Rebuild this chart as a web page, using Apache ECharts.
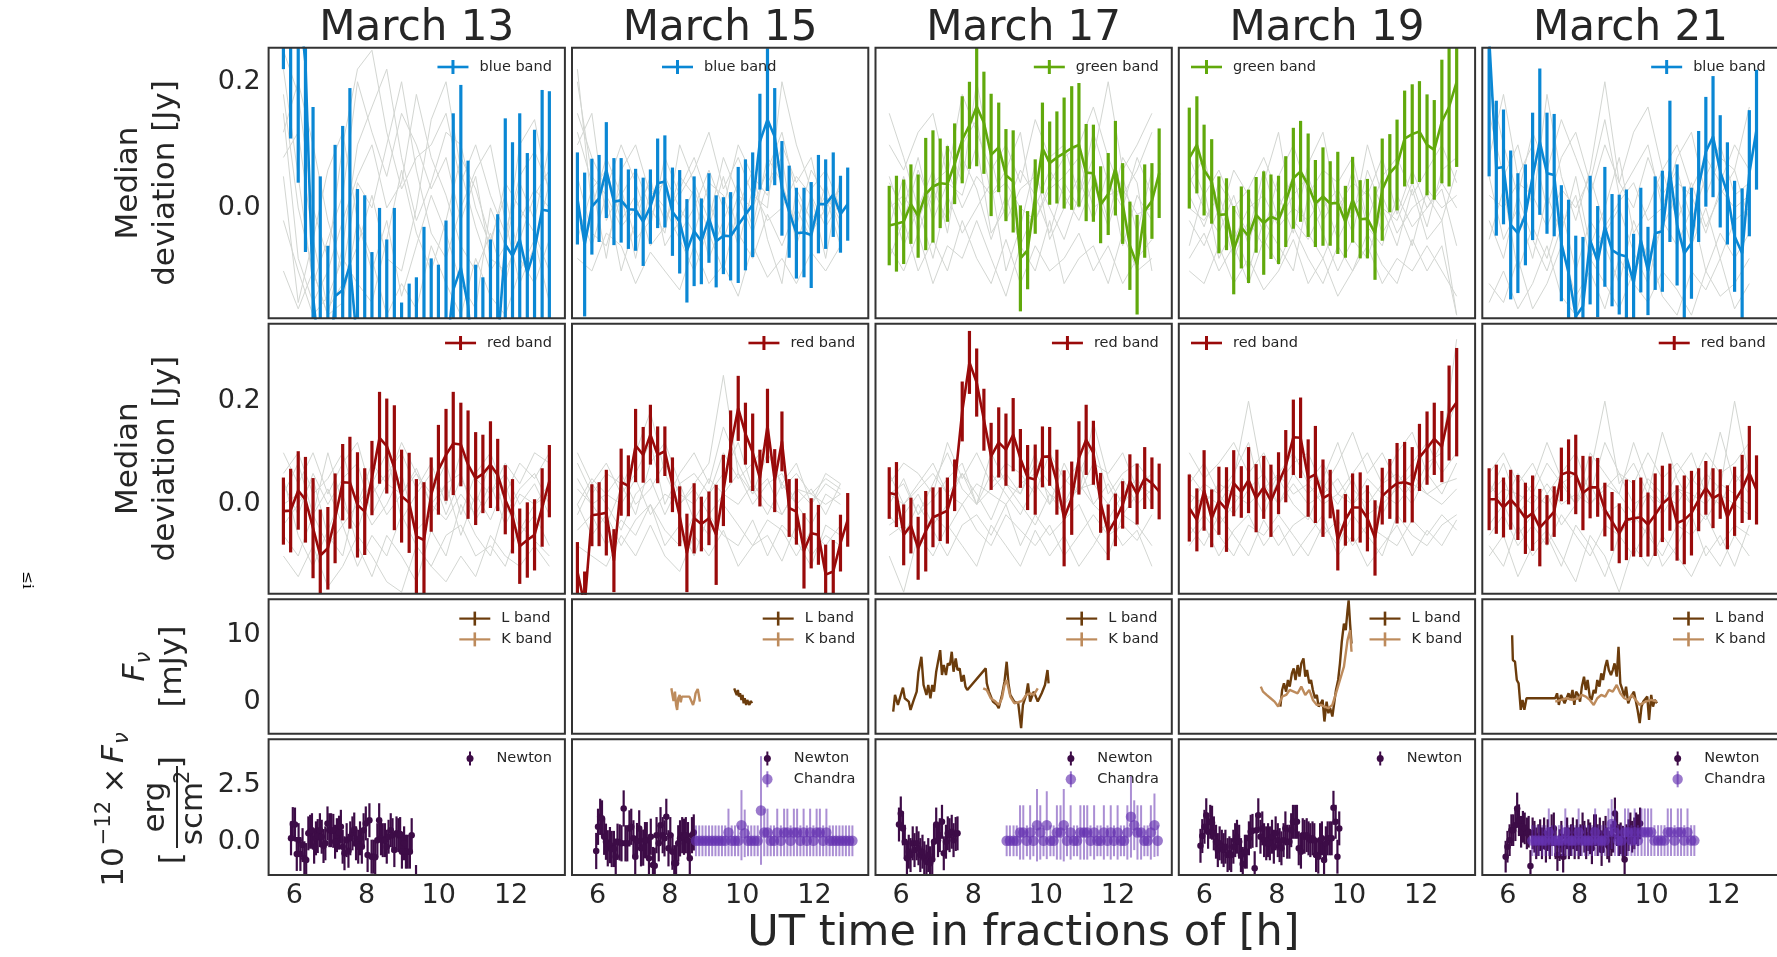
<!DOCTYPE html>
<html>
<head>
<meta charset="utf-8">
<title>Multi-band light curves</title>
<script src="https://cdn.jsdelivr.net/npm/echarts@6/dist/echarts.min.js"></script>
<style>
  html, body { margin: 0; padding: 0; background: #fff; }
  #chart { width: 1777px; height: 957px; }
</style>
</head>
<body>
<div id="chart"></div>
<script>
// ---------- labels / ticks ----------
const days = ['March 13', 'March 15', 'March 17', 'March 19', 'March 21'];
const xTicks = [6, 8, 10, 12];
const devTicks = [0.0, 0.2];
const irTicks = [0, 10];
const xrayTicks = [0.0, 2.5];

// ---------- optical bin times [h], shared by both optical rows ----------
const tOpt13 = [5.70,5.90,6.11,6.31,6.52,6.72,6.93,7.13,7.34,7.54,7.75,7.95,8.15,8.36,8.56,8.77,8.97,9.18,9.38,9.59,9.79,9.99,10.20,10.40,10.61,10.81,11.02,11.22,11.43,11.63,11.84,12.04,12.24,12.45,12.65,12.86,13.06];
const tOpt15 = [5.44,5.64,5.84,6.04,6.24,6.45,6.65,6.85,7.05,7.26,7.46,7.66,7.86,8.07,8.27,8.47,8.67,8.87,9.08,9.28,9.48,9.68,9.89,10.09,10.29,10.49,10.70,10.90,11.10,11.30,11.50,11.71,11.91,12.11,12.31,12.52,12.72,12.92];
const tOpt17 = [5.67,5.87,6.07,6.27,6.47,6.68,6.88,7.08,7.28,7.48,7.69,7.89,8.09,8.29,8.49,8.70,8.90,9.10,9.30,9.50,9.71,9.91,10.11,10.31,10.51,10.72,10.92,11.12,11.32,11.52,11.73,11.93,12.13,12.33,12.53,12.74,12.94,13.14];
const tOpt19 = [5.58,5.79,5.99,6.20,6.40,6.61,6.81,7.02,7.22,7.43,7.64,7.84,8.05,8.25,8.46,8.66,8.87,9.07,9.28,9.48,9.69,9.90,10.10,10.31,10.51,10.72,10.92,11.13,11.33,11.54,11.75,11.95,12.16,12.36,12.57,12.77,12.98];
const tOpt21 = [5.48,5.68,5.88,6.08,6.28,6.49,6.69,6.89,7.09,7.29,7.49,7.69,7.89,8.09,8.29,8.50,8.70,8.90,9.10,9.30,9.50,9.70,9.90,10.10,10.30,10.51,10.71,10.91,11.11,11.31,11.51,11.71,11.91,12.11,12.31,12.52,12.72,12.92];

// ---------- top row: blue / green band median deviation [Jy] ----------
const blue13 = [0.52,0.41,0.34,0.23,-0.14,-0.25,-0.30,-0.14,-0.13,-0.09,-0.22,-0.23,-0.31,-0.25,-0.29,-0.24,-0.38,-0.35,-0.33,-0.26,-0.30,-0.31,-0.24,-0.13,-0.095,-0.155,-0.30,-0.32,-0.27,-0.22,-0.058,-0.076,-0.05,-0.103,-0.066,-0.003,-0.005];
const blue13Err = [0.30,0.30,0.30,0.30,0.30,0.30,0.24,0.24,0.26,0.28,0.25,0.25,0.24,0.25,0.24,0.24,0.23,0.23,0.22,0.23,0.22,0.22,0.22,0.28,0.29,0.23,0.21,0.21,0.22,0.21,0.20,0.18,0.20,0.19,0.19,0.19,0.19];
const blue15 = [0.015,-0.058,0.002,0.015,0.060,0.010,0.012,-0.002,-0.003,-0.022,0.002,0.039,0.042,-0.006,-0.022,-0.068,-0.037,-0.053,-0.016,-0.053,-0.044,-0.045,-0.027,-0.011,0.005,0.105,0.140,0.113,0.031,-0.006,-0.040,-0.039,-0.043,0.006,0.006,0.021,-0.010,0.006];
const blue15Err = [0.073,0.114,0.076,0.069,0.076,0.069,0.067,0.063,0.065,0.070,0.059,0.071,0.073,0.070,0.082,0.082,0.087,0.068,0.071,0.073,0.061,0.070,0.092,0.088,0.083,0.076,0.113,0.077,0.075,0.073,0.072,0.071,0.084,0.078,0.071,0.067,0.061,0.058];
const green17 = [-0.028,-0.025,-0.022,0.006,-0.013,0.022,0.034,0.039,0.038,0.070,0.108,0.131,0.161,0.135,0.084,0.096,0.052,0.042,-0.080,-0.067,0.018,0.095,0.071,0.080,0.087,0.095,0.100,0.056,0.055,0.005,0.022,0.063,0.007,-0.060,-0.090,-0.005,0.011,0.055];
const green17Err = [0.063,0.076,0.067,0.063,0.066,0.089,0.089,0.071,0.060,0.064,0.069,0.069,0.095,0.081,0.097,0.071,0.073,0.081,0.084,0.062,0.059,0.072,0.066,0.073,0.088,0.098,0.098,0.077,0.077,0.061,0.065,0.075,0.064,0.070,0.079,0.074,0.060,0.071];
const green19 = [0.079,0.100,0.060,0.042,-0.011,-0.010,-0.067,-0.031,-0.045,-0.011,-0.024,-0.014,-0.019,0.010,0.047,0.058,0.036,0.007,0.018,0.007,0.008,-0.022,0.013,-0.018,-0.017,-0.040,0.029,0.055,0.068,0.110,0.117,0.121,0.100,0.092,0.137,0.160,0.200];
const green19Err = [0.080,0.077,0.072,0.067,0.061,0.057,0.070,0.065,0.074,0.060,0.082,0.067,0.070,0.072,0.080,0.080,0.082,0.069,0.078,0.067,0.081,0.057,0.068,0.062,0.063,0.074,0.081,0.062,0.072,0.076,0.079,0.080,0.080,0.079,0.098,0.126,0.135];
const blue21 = [0.27,0.063,0.065,-0.027,-0.040,-0.011,0.050,0.105,0.055,0.052,-0.056,-0.103,-0.172,-0.156,-0.051,-0.085,-0.030,-0.067,-0.074,-0.077,-0.119,-0.051,-0.100,-0.040,-0.037,0.058,-0.027,-0.072,-0.056,0.034,0.089,0.113,0.058,0.023,-0.045,-0.072,0.055,0.124];
const blue21Err = [0.22,0.107,0.091,0.118,0.095,0.080,0.101,0.116,0.096,0.097,0.092,0.116,0.128,0.110,0.102,0.088,0.095,0.089,0.095,0.106,0.078,0.083,0.070,0.090,0.096,0.112,0.096,0.106,0.088,0.088,0.087,0.096,0.089,0.081,0.088,0.103,0.100,0.095];

// ---------- second row: red band ----------
const red13 = [-0.013,-0.012,0.027,0.009,-0.046,-0.099,-0.085,-0.027,0.043,0.042,-0.001,-0.014,0.051,0.129,0.113,0.071,0.016,0.003,-0.062,-0.069,0.019,0.067,0.096,0.118,0.116,0.077,0.050,0.059,0.077,0.057,0.009,-0.023,-0.081,-0.069,-0.059,-0.006,0.045];
const red13Err = [0.065,0.081,0.076,0.083,0.097,0.089,0.080,0.087,0.074,0.089,0.102,0.084,0.072,0.089,0.092,0.121,0.090,0.097,0.111,0.112,0.072,0.087,0.089,0.100,0.081,0.105,0.090,0.076,0.084,0.070,0.067,0.072,0.073,0.073,0.069,0.076,0.070];
const red15 = [-0.130,-0.195,-0.021,-0.019,-0.016,-0.109,0.043,0.036,0.114,0.096,0.135,0.096,0.103,0.038,-0.023,-0.094,-0.027,-0.038,-0.027,-0.059,0.027,0.112,0.186,0.137,0.101,0.051,0.152,0.046,0.122,-0.007,-0.014,-0.090,-0.056,-0.059,-0.136,-0.130,-0.075,-0.030];
const red15Err = [0.057,0.065,0.060,0.062,0.083,0.061,0.065,0.059,0.071,0.054,0.058,0.055,0.048,0.053,0.058,0.076,0.068,0.053,0.052,0.097,0.069,0.070,0.063,0.060,0.075,0.055,0.072,0.061,0.058,0.056,0.064,0.073,0.068,0.058,0.058,0.061,0.055,0.052];
const red17 = [0.022,0.019,-0.059,-0.041,-0.085,-0.052,-0.025,-0.019,-0.012,0.037,0.180,0.275,0.236,0.164,0.093,0.120,0.106,0.135,0.089,0.052,0.048,0.092,0.093,0.043,-0.027,0.012,0.090,0.125,0.100,0.003,-0.054,-0.030,-0.001,0.045,0.020,0.051,0.041,0.025];
const red17Err = [0.050,0.063,0.059,0.054,0.061,0.078,0.058,0.052,0.064,0.050,0.058,0.061,0.066,0.060,0.065,0.068,0.070,0.071,0.057,0.063,0.068,0.059,0.057,0.063,0.093,0.071,0.071,0.068,0.062,0.058,0.054,0.051,0.046,0.052,0.059,0.060,0.050,0.054];
const red19 = [-0.007,-0.030,0.027,-0.027,0.007,-0.010,0.041,0.024,0.047,0.012,0.033,0.007,0.041,0.074,0.130,0.129,0.051,0.058,0.012,0.020,-0.069,-0.030,-0.006,-0.006,-0.027,-0.065,0.016,0.030,0.041,0.043,0.038,0.091,0.109,0.127,0.112,0.177,0.198];
const red19Err = [0.065,0.061,0.078,0.056,0.066,0.082,0.064,0.050,0.064,0.066,0.061,0.070,0.060,0.070,0.073,0.078,0.075,0.094,0.075,0.047,0.059,0.050,0.066,0.068,0.064,0.073,0.055,0.058,0.078,0.078,0.073,0.065,0.071,0.070,0.069,0.092,0.105];
const red21 = [0.010,0.010,-0.006,0.009,-0.006,-0.027,-0.017,-0.045,-0.030,-0.014,0.058,0.063,0.058,0.022,0.033,0.033,-0.010,-0.033,-0.056,-0.030,-0.027,-0.025,-0.039,-0.020,0.001,0.014,-0.036,-0.030,-0.017,0.009,0.032,0.012,0.020,-0.025,0.006,0.030,0.061,0.028];
const red21Err = [0.060,0.067,0.058,0.058,0.063,0.069,0.073,0.075,0.048,0.049,0.052,0.063,0.077,0.072,0.060,0.057,0.052,0.057,0.058,0.078,0.074,0.077,0.062,0.080,0.074,0.065,0.073,0.086,0.082,0.061,0.052,0.058,0.048,0.062,0.067,0.066,0.091,0.067];

// ---------- grey comparison curves (every second optical bin) ----------
const grey13Top = [
  [0.22,0.05,-0.12,-0.05,0.02,0.2,0.12,0.05,0.15,0.1,0.03,0.08,-0.02,0.05,-0.08,-0.1,-0.05,0.02,0.06],
  [0.15,-0.08,-0.15,-0.1,-0.02,0.05,0.1,0.0,0.04,0.18,0.08,0.02,-0.06,-0.1,-0.04,-0.12,-0.02,0.03,0.0],
  [0.08,0.12,-0.05,-0.16,-0.12,-0.06,0.02,-0.08,-0.1,0.0,0.14,0.2,0.06,-0.03,-0.1,-0.06,0.04,-0.02,0.1],
  [-0.02,-0.1,-0.17,-0.14,-0.08,-0.12,-0.15,-0.05,0.06,-0.04,-0.1,-0.02,0.08,0.03,-0.05,0.02,-0.08,-0.12,-0.05],
  [0.25,0.18,0.0,-0.08,0.1,0.22,0.25,0.12,0.03,0.08,0.1,0.15,0.04,0.1,0.02,-0.04,0.05,0.09,0.03],
  [-0.1,-0.16,-0.1,-0.17,-0.15,-0.02,-0.08,-0.17,-0.12,-0.16,-0.06,-0.12,-0.17,-0.08,-0.14,-0.17,-0.1,-0.05,-0.15],
  [0.12,0.2,0.1,-0.02,-0.1,0.04,0.0,0.1,0.2,0.06,-0.04,-0.08,0.0,0.06,0.1,-0.02,-0.12,-0.06,0.04],
  [0.18,0.0,-0.1,-0.17,-0.06,0.1,0.16,0.22,0.08,-0.02,0.04,0.12,0.1,0.0,-0.06,0.04,0.0,-0.04,-0.1],
  [0.05,-0.15,-0.05,0.06,0.12,-0.02,-0.1,-0.02,-0.14,-0.06,0.02,-0.04,-0.12,-0.16,0.0,-0.06,0.1,0.14,0.02]
];
const grey15Top = [
  [0.2,0.05,0.02,-0.03,0.0,0.04,-0.02,0.03,0.08,0.01,-0.05,0.02,0.0,0.06,0.12,0.02,-0.04,0.0,0.03],
  [0.1,0.15,-0.02,0.03,-0.05,-0.02,0.05,0.0,-0.04,0.04,0.02,-0.06,0.03,-0.02,0.0,0.05,0.02,-0.03,0.01],
  [-0.05,0.03,0.06,-0.02,0.02,-0.06,-0.03,0.05,0.02,-0.08,-0.02,0.04,-0.03,0.08,0.04,-0.03,0.06,0.02,-0.02],
  [0.05,-0.04,-0.06,0.02,-0.08,0.03,0.0,-0.05,-0.1,-0.03,0.05,-0.04,-0.08,-0.01,-0.06,0.0,-0.05,0.04,-0.04],
  [0.15,0.08,0.03,0.1,0.04,-0.03,0.08,0.02,0.06,0.12,0.03,0.08,0.02,0.0,0.2,0.1,0.03,0.06,0.0],
  [-0.08,-0.1,-0.04,-0.06,-0.12,-0.07,-0.1,-0.13,-0.06,-0.12,-0.09,-0.14,-0.06,-0.11,-0.08,-0.12,-0.07,-0.1,-0.06],
  [0.22,0.0,0.08,0.02,0.06,0.0,-0.04,0.1,0.04,-0.02,0.08,0.02,-0.04,0.04,0.08,-0.06,0.02,-0.08,0.05],
  [0.0,-0.06,0.02,-0.1,-0.02,0.05,-0.06,-0.02,0.03,-0.04,-0.1,0.0,0.06,-0.05,-0.12,0.03,-0.02,0.02,-0.06],
  [0.12,0.04,-0.08,0.06,0.1,0.02,0.04,-0.04,0.0,0.06,0.0,0.1,0.05,0.02,0.1,0.04,0.08,-0.02,0.04]
];
const grey17Top = [
  [0.05,-0.02,0.06,0.0,0.1,0.04,0.2,0.08,-0.02,0.03,0.05,0.0,-0.05,0.02,0.12,0.04,0.0,0.08,0.02],
  [-0.03,0.05,-0.04,0.03,-0.02,0.08,0.03,-0.05,0.02,-0.06,0.0,0.06,0.02,-0.02,0.04,-0.03,0.05,-0.04,0.06],
  [0.02,-0.06,0.0,-0.08,0.02,-0.04,0.0,0.04,-0.1,-0.03,0.07,-0.05,0.0,0.05,-0.02,0.06,-0.06,0.02,-0.02],
  [-0.08,-0.02,-0.1,-0.05,-0.1,-0.02,-0.08,-0.12,-0.05,-0.12,-0.06,-0.1,-0.08,-0.04,-0.1,-0.06,-0.12,-0.08,-0.05],
  [0.1,0.06,0.12,0.15,0.05,0.18,0.12,0.06,0.1,0.04,0.14,0.08,0.1,0.02,0.08,0.2,0.06,0.1,0.15],
  [0.0,0.02,-0.02,0.04,0.06,0.0,0.05,0.02,0.04,0.0,-0.02,0.03,0.05,0.08,0.0,0.02,0.03,-0.01,0.0],
  [0.15,0.08,0.0,0.06,-0.04,0.1,0.14,0.02,0.06,0.12,-0.02,0.04,0.08,0.1,0.16,0.08,0.02,0.06,0.12],
  [-0.06,-0.1,-0.04,-0.12,-0.06,-0.08,-0.02,-0.08,-0.14,-0.06,-0.1,-0.02,-0.12,-0.08,-0.06,-0.12,-0.04,-0.1,-0.08],
  [0.04,0.0,0.08,-0.02,0.04,0.02,0.1,-0.04,0.0,0.06,0.02,-0.04,0.04,0.0,0.06,-0.02,0.08,0.04,-0.1]
];
const grey19Top = [
  [0.05,0.0,-0.04,0.02,-0.06,0.04,0.12,-0.02,-0.05,0.0,0.03,-0.02,0.1,0.02,-0.04,0.0,0.02,-0.02,-0.17],
  [-0.02,-0.06,0.0,-0.08,-0.02,-0.06,0.0,0.05,-0.04,-0.08,-0.02,0.06,-0.03,-0.06,0.02,-0.03,0.0,0.04,0.0],
  [-0.06,0.03,-0.08,-0.03,-0.1,-0.02,-0.06,-0.1,0.02,-0.04,-0.1,-0.05,-0.08,0.0,-0.06,0.03,-0.05,-0.02,0.06],
  [0.08,0.02,0.06,0.0,0.03,0.08,0.02,-0.04,0.07,0.12,0.0,0.04,0.02,0.08,-0.01,0.06,0.0,0.03,-0.06],
  [-0.1,-0.12,-0.06,-0.12,-0.08,-0.13,-0.1,-0.05,-0.12,-0.08,-0.14,-0.1,-0.06,-0.12,-0.08,-0.1,-0.06,-0.1,-0.14],
  [0.0,-0.02,0.02,-0.05,0.0,0.02,-0.03,0.0,-0.02,0.02,-0.05,0.0,0.03,-0.04,0.0,-0.06,0.03,0.0,0.02],
  [0.04,0.08,-0.02,0.06,0.02,-0.04,0.05,0.1,0.02,0.06,0.04,0.08,-0.02,0.05,0.08,0.02,0.06,0.1,0.04],
  [-0.08,-0.04,-0.1,-0.06,-0.12,-0.05,-0.09,-0.03,-0.08,-0.12,-0.06,-0.1,-0.04,-0.09,-0.12,-0.05,-0.1,-0.06,-0.17],
  [0.02,-0.03,0.04,0.0,-0.04,0.06,-0.02,0.02,0.05,-0.02,0.02,-0.04,0.06,0.0,-0.02,0.04,-0.03,0.06,0.08]
];
const grey21Top = [
  [0.15,0.05,0.1,0.0,0.18,0.05,-0.02,0.06,0.2,0.04,0.0,0.08,0.02,0.06,-0.02,0.05,0.1,0.02,0.04],
  [0.05,-0.05,0.0,-0.08,0.02,-0.04,0.05,-0.06,0.0,0.08,-0.04,0.0,0.06,-0.02,0.04,-0.03,0.02,0.06,-0.02],
  [-0.05,0.03,-0.1,-0.03,-0.08,0.0,-0.1,-0.02,-0.06,-0.12,-0.02,-0.08,-0.03,0.02,-0.06,0.0,-0.08,-0.02,0.0],
  [0.2,0.1,0.02,0.12,0.06,0.14,0.08,0.02,0.1,0.04,0.12,0.16,0.06,0.1,0.03,0.08,0.04,0.1,0.06],
  [-0.12,-0.15,-0.08,-0.16,-0.12,-0.06,-0.14,-0.1,-0.16,-0.08,-0.12,-0.15,-0.1,-0.13,-0.17,-0.1,-0.14,-0.12,-0.08],
  [0.02,0.0,0.04,0.02,-0.03,0.03,0.0,0.05,-0.03,0.01,0.04,-0.02,0.0,0.04,0.02,-0.04,0.03,0.0,0.02],
  [0.08,0.18,0.05,0.1,0.0,0.08,0.12,0.04,0.14,0.02,0.06,0.1,0.0,0.08,0.12,0.02,0.08,0.06,0.16],
  [-0.02,-0.08,0.02,-0.05,-0.1,-0.03,0.02,-0.08,-0.04,0.0,-0.07,-0.12,-0.02,-0.06,0.0,-0.1,-0.04,-0.08,-0.04],
  [-0.15,-0.1,-0.16,-0.12,-0.06,-0.14,-0.17,-0.08,-0.12,-0.16,-0.1,-0.06,-0.14,-0.17,-0.1,-0.13,-0.08,-0.16,-0.12]
];
const grey13Red = [
  [0.02,0.08,-0.02,0.1,0.0,-0.05,0.04,0.1,-0.03,0.02,0.06,-0.02,0.05,0.0,0.08,-0.02,0.03,0.06,0.0],
  [-0.04,0.0,0.05,-0.06,-0.1,0.02,-0.04,0.0,0.06,-0.05,-0.02,0.04,-0.06,0.02,-0.03,0.04,-0.05,0.0,0.04],
  [0.05,-0.06,-0.12,-0.05,0.02,-0.08,-0.14,-0.06,-0.1,-0.15,-0.05,-0.1,0.0,-0.06,-0.1,0.0,-0.06,-0.02,-0.08],
  [0.1,0.04,0.1,0.02,0.08,0.12,0.02,0.06,0.1,0.03,0.08,0.0,0.1,0.05,0.02,0.08,0.04,0.1,0.08],
  [-0.1,-0.14,-0.08,-0.16,-0.12,-0.06,-0.1,-0.15,-0.17,-0.08,-0.12,-0.15,-0.1,-0.14,-0.06,-0.1,-0.12,-0.08,-0.12],
  [0.0,0.02,-0.02,0.03,-0.04,0.0,0.04,-0.02,0.02,0.06,0.0,-0.03,0.02,-0.02,0.04,-0.04,0.02,0.0,0.02],
  [0.04,-0.02,0.06,0.0,0.05,0.08,-0.02,0.04,0.02,0.07,0.0,0.04,0.06,-0.03,0.02,0.06,0.0,0.04,-0.02],
  [-0.06,-0.1,-0.02,-0.08,-0.04,-0.12,-0.06,-0.1,-0.02,-0.08,-0.12,-0.06,-0.04,-0.1,-0.08,-0.12,-0.04,-0.07,-0.1],
  [0.06,0.1,0.02,0.05,0.1,0.0,0.08,0.04,0.12,0.06,0.02,0.08,-0.02,0.06,0.1,0.02,0.08,0.05,0.1]
];
const grey15Red = [
  [0.05,0.0,-0.04,0.03,0.1,0.18,0.06,0.0,0.04,0.08,0.25,0.06,0.02,0.05,-0.02,0.03,0.0,0.04,0.02],
  [-0.02,0.04,0.0,-0.05,0.02,0.05,-0.02,0.04,-0.03,0.02,0.06,0.12,0.03,-0.02,0.04,0.0,-0.04,0.02,0.0],
  [0.0,-0.06,-0.02,-0.08,-0.03,0.0,-0.05,-0.08,-0.02,-0.06,0.0,-0.04,-0.08,-0.03,-0.05,-0.1,-0.05,-0.08,-0.04],
  [0.08,0.02,0.06,0.04,-0.02,0.08,0.12,0.04,0.06,0.02,0.1,0.05,0.08,0.12,0.03,0.06,0.02,0.05,0.03],
  [-0.08,-0.1,-0.12,-0.06,-0.1,-0.04,-0.1,-0.13,-0.06,-0.1,-0.05,-0.12,-0.08,-0.06,-0.11,-0.04,-0.1,-0.06,-0.08],
  [0.03,0.0,0.02,0.0,0.05,-0.02,0.02,0.0,0.03,-0.02,0.02,0.0,0.04,0.0,-0.02,0.03,0.02,0.0,0.02],
  [0.1,0.04,0.08,0.02,0.06,0.12,0.0,0.06,0.1,0.04,0.15,0.08,0.02,0.1,0.04,0.08,0.0,0.06,0.04],
  [-0.05,-0.02,-0.08,-0.03,-0.06,0.0,-0.08,-0.04,-0.1,-0.02,-0.06,-0.08,-0.03,-0.1,-0.04,-0.07,-0.12,-0.04,-0.06],
  [0.0,0.05,0.02,0.06,0.0,0.03,0.08,0.02,0.0,0.05,0.02,0.06,0.0,0.04,0.06,0.0,0.03,-0.02,0.04]
];
const grey17Red = [
  [0.0,0.05,-0.02,0.04,0.1,0.03,0.0,0.06,0.02,-0.02,0.04,0.0,0.08,0.02,0.16,0.05,0.0,0.04,0.02],
  [-0.04,-0.02,0.02,-0.04,0.0,0.06,0.02,-0.03,0.04,0.0,-0.04,0.02,-0.02,0.04,0.0,-0.03,0.02,0.05,0.0],
  [-0.1,-0.17,-0.06,-0.1,-0.04,-0.08,-0.12,-0.04,-0.08,-0.12,-0.05,-0.1,-0.06,-0.12,-0.08,-0.03,-0.08,-0.05,-0.12],
  [0.04,0.08,0.06,0.02,0.12,0.05,0.1,0.04,0.08,0.06,0.02,0.1,0.05,0.02,0.08,0.06,0.1,0.03,0.06],
  [-0.06,-0.04,-0.08,-0.02,-0.05,0.0,-0.05,-0.08,-0.02,-0.05,-0.08,-0.04,-0.1,-0.06,-0.02,-0.06,-0.04,-0.07,-0.02],
  [0.02,0.0,0.03,0.06,0.02,0.0,0.04,0.02,0.0,0.04,0.06,0.02,0.0,0.03,0.04,0.0,0.05,0.0,0.03],
  [0.06,0.0,0.04,0.08,0.02,0.06,0.0,0.1,0.04,0.02,0.08,0.04,0.0,0.06,0.12,0.02,0.06,0.08,0.04],
  [-0.02,-0.06,0.0,-0.05,-0.1,-0.04,-0.02,-0.06,0.0,-0.08,-0.02,-0.06,-0.03,0.0,-0.06,-0.1,-0.02,-0.04,-0.08],
  [0.02,0.04,-0.02,0.01,0.05,0.08,0.0,0.03,0.06,0.02,0.1,0.0,0.04,0.08,0.0,0.04,-0.02,0.02,0.05]
];
const grey19Red = [
  [0.06,0.02,0.0,0.05,0.2,0.04,0.0,0.06,0.02,0.05,0.12,0.03,0.0,0.04,0.06,0.02,0.08,0.1,0.32],
  [-0.02,0.02,-0.04,0.0,0.04,-0.02,0.05,0.0,-0.03,0.04,0.0,0.05,-0.02,0.0,0.03,0.06,0.02,0.04,0.05],
  [-0.08,-0.04,-0.1,-0.05,-0.02,-0.08,-0.04,-0.1,-0.06,-0.02,-0.1,-0.06,-0.12,-0.08,-0.04,-0.1,-0.05,-0.08,-0.03],
  [0.1,0.05,0.08,0.12,0.06,0.1,0.04,0.08,0.1,0.03,0.08,0.14,0.06,0.1,0.04,0.08,0.12,0.06,0.1],
  [-0.04,-0.08,-0.02,-0.06,-0.1,-0.03,-0.08,-0.04,-0.02,-0.06,-0.03,-0.08,-0.04,-0.06,-0.08,-0.03,-0.06,-0.02,-0.05],
  [0.02,0.0,0.04,0.02,0.0,0.03,0.06,0.02,0.04,0.0,0.02,0.0,0.05,0.02,0.0,0.04,0.02,0.0,0.03],
  [0.04,0.08,0.02,0.06,0.12,0.0,0.06,0.1,0.04,0.08,0.02,0.06,0.1,0.04,0.1,0.14,0.06,0.12,0.2],
  [-0.06,-0.02,-0.06,-0.1,-0.04,-0.06,-0.02,-0.06,-0.1,-0.04,-0.08,-0.02,-0.06,-0.1,-0.02,-0.06,-0.08,-0.04,-0.02],
  [0.0,0.04,0.02,-0.02,0.03,0.06,0.0,0.04,0.0,0.02,0.05,0.0,0.03,-0.02,0.04,0.0,0.06,0.02,0.08]
];
const grey21Red = [
  [0.02,0.08,0.0,0.04,0.12,0.05,0.0,0.06,0.2,0.04,0.08,0.02,0.14,0.05,0.0,0.06,0.03,0.2,0.05],
  [-0.04,0.0,-0.06,-0.02,0.02,-0.04,0.0,0.04,-0.02,0.0,-0.04,0.02,-0.02,0.03,0.0,-0.03,0.02,0.0,-0.02],
  [-0.1,-0.06,-0.14,-0.08,-0.05,-0.1,-0.15,-0.06,-0.1,-0.17,-0.08,-0.12,-0.06,-0.1,-0.14,-0.08,-0.12,-0.06,-0.1],
  [0.06,0.1,0.04,0.08,0.02,0.06,0.1,0.02,0.12,0.06,0.04,0.1,0.05,0.08,0.04,0.1,0.06,0.08,0.12],
  [-0.06,-0.02,-0.08,-0.04,-0.08,-0.02,-0.06,-0.1,-0.04,-0.06,-0.02,-0.06,-0.1,-0.04,-0.06,-0.02,-0.08,-0.04,-0.06],
  [0.0,0.03,0.02,0.0,0.04,0.0,0.02,0.0,0.03,0.06,0.0,0.02,0.0,0.03,0.02,0.0,0.04,0.02,0.0],
  [0.04,0.0,0.06,0.02,0.08,0.04,0.0,0.1,0.06,0.02,0.12,0.04,0.0,0.06,0.1,0.02,0.14,0.04,0.08],
  [-0.08,-0.12,-0.04,-0.1,-0.06,-0.12,-0.04,-0.08,-0.14,-0.06,-0.1,-0.04,-0.12,-0.08,-0.02,-0.1,-0.06,-0.12,-0.04],
  [0.02,0.05,-0.02,0.02,0.0,0.04,0.06,0.0,0.04,0.02,-0.02,0.05,0.02,0.0,0.05,0.02,0.0,0.06,0.02]
];

// ---------- third row: L and K band flux [mJy] ----------
const tK15 = [8.04,8.07,8.10,8.14,8.17,8.20,8.23,8.27,8.30,8.33,8.37,8.43,8.48,8.54,8.59,8.64,8.68,8.71,8.74,8.77,8.80,8.83];
const K15 = [2.0,1.0,0.1,1.5,-0.5,-1.25,0.5,1.0,-0.1,0.75,0.6,0.75,0.7,0.75,0.6,-0.5,0.25,1.25,1.5,1.9,1.0,0.0];
const tL15 = [9.78,9.81,9.85,9.88,9.91,9.94,9.98,10.01,10.04,10.07,10.11,10.14,10.17,10.20,10.24,10.27];
const L15 = [2.0,1.5,1.0,1.75,0.75,1.25,0.25,1.0,-0.25,0.5,-0.5,0.25,0.0,-0.5,0.1,-0.25];
const tL17 = [5.78,5.83,5.91,6.05,6.10,6.21,6.26,6.34,6.43,6.48,6.56,6.62,6.70,6.75,6.81,6.86,6.91,6.97,7.02,7.08,7.13,7.18,7.24,7.29,7.35,7.40,7.45,7.51,7.56,7.62,7.67,7.73,7.78,7.83,8.34,8.37,8.43,8.54,8.65,8.70,8.79,8.86,8.92,8.97,9.02,9.13,9.24,9.32,9.37,9.46,9.51,9.57,9.67,9.78,9.89,9.98,10.05,10.08];
const L17 = [-1.5,1.0,-0.5,2.1,0.5,0.0,-1.25,0.1,1.5,4.5,6.75,2.5,1.0,2.5,0.5,2.5,1.5,4.5,4.75,7.75,4.0,5.5,4.0,5.75,5.5,7.5,4.5,6.5,4.75,5.0,3.0,4.0,2.25,1.75,5.0,2.75,1.5,0.0,-0.5,-1.0,1.0,3.0,6.0,2.75,1.0,0.0,-0.25,-4.0,-0.5,1.0,2.75,0.0,1.5,0.0,1.25,2.5,4.75,2.75];
const tK17 = [8.27,8.37,8.48,8.59,8.70,8.79,8.86,8.92,9.02,9.13,9.24,9.35,9.46,9.57,9.67,9.78];
const K17 = [2.0,1.75,0.5,0.1,-0.5,0.5,2.5,3.25,0.75,-0.25,-0.1,0.1,1.0,1.25,1.0,2.0];
const tL19 = [8.10,8.15,8.20,8.26,8.31,8.36,8.42,8.47,8.52,8.58,8.63,8.68,8.74,8.79,8.84,8.90,8.95,9.00,9.06,9.11,9.16,9.22,9.27,9.32,9.38,9.43,9.48,9.54,9.59,9.64,9.70,9.75,9.80,9.86,9.91,9.96,9.99,10.03,10.07];
const L19 = [-0.75,1.75,2.75,1.5,3.25,2.25,4.25,5.0,3.25,5.5,3.75,5.75,6.5,3.75,4.75,2.75,3.25,1.75,0.5,1.0,-0.75,-0.25,0.25,-3.0,0.0,-1.75,-1.0,-2.25,-0.25,1.75,3.25,5.75,9.0,11.75,10.75,13.75,15.25,11.75,8.75];
const tK19 = [7.56,7.62,7.72,7.83,7.94,8.04,8.15,8.26,8.36,8.47,8.58,8.68,8.79,8.90,9.00,9.11,9.22,9.32,9.43,9.54,9.64,9.75,9.86,9.96,10.03,10.07];
const K19 = [2.25,1.5,1.0,0.5,0.0,-0.75,0.75,1.0,1.75,1.5,1.25,2.25,1.0,1.75,0.25,-0.5,-0.5,-0.75,-1.0,-0.5,1.25,3.25,5.25,9.25,10.75,7.5];
const tL21 = [6.12,6.14,6.20,6.25,6.30,6.36,6.41,6.46,6.52,7.32,7.37,7.42,7.48,7.58,7.69,7.74,7.80,7.85,7.90,7.96,8.01,8.06,8.12,8.17,8.22,8.28,8.33,8.39,8.44,8.49,8.55,8.60,8.65,8.71,8.76,8.81,8.87,8.92,8.97,9.03,9.08,9.13,9.19,9.24,9.29,9.35,9.40,9.51,9.61,9.67,9.72,9.77,9.88,9.93,9.99,10.04,10.09,10.15];
const L21 = [10.0,6.25,6.0,3.25,2.75,-1.25,0.25,-1.25,0.5,0.5,1.25,-0.5,1.0,-0.25,1.25,0.25,1.75,-0.5,1.5,1.0,0.0,2.25,3.75,1.75,3.25,0.75,0.25,1.75,1.25,3.25,2.25,4.25,3.25,5.25,6.25,4.75,4.0,4.75,5.75,3.75,8.25,2.75,1.75,0.75,2.25,-0.25,0.5,1.5,-1.25,-3.25,-0.75,0.0,0.75,-2.75,1.0,-0.75,0.25,-0.25];
const tK21 = [7.32,7.48,7.64,7.80,7.96,8.06,8.17,8.28,8.39,8.49,8.60,8.71,8.81,8.92,9.03,9.13,9.24,9.35,9.45,9.56,9.67,9.83,9.99,10.15];
const K21 = [0.0,0.25,0.5,0.25,0.5,1.0,0.75,0.25,-0.5,0.5,1.0,0.75,1.75,1.5,2.5,1.25,0.5,0.25,1.0,0.25,-0.5,0.0,0.25,0.0];

// ---------- bottom row: X-ray flux [1e-12 erg/s/cm2] ----------
const tNewton13 = [5.91,5.96,6.02,6.07,6.12,6.17,6.23,6.28,6.33,6.39,6.44,6.49,6.55,6.60,6.65,6.71,6.76,6.81,6.86,6.92,6.97,7.02,7.08,7.13,7.18,7.24,7.29,7.34,7.39,7.45,7.50,7.55,7.61,7.66,7.71,7.77,7.82,7.87,7.92,7.98,8.03,8.08,8.14,8.19,8.24,8.30,8.35,8.40,8.45,8.51,8.56,8.61,8.67,8.72,8.77,8.83,8.88,8.93,8.98,9.04,9.09,9.14,9.20,9.25,9.37];
const newton13 = [0.15,0.78,0.76,-0.54,0.07,-0.54,-0.15,-0.73,-0.81,0.37,0.44,0.51,-0.22,0.15,0.25,0.51,0.22,-0.19,-0.07,0.81,0.51,0.51,0.48,0.0,0.29,0.40,0.66,-0.22,-0.51,0.07,-0.40,0.15,0.37,0.54,-0.07,-0.22,0.15,-0.22,0.51,0.81,-0.59,0.95,-0.66,-0.66,-0.69,0.07,0.95,0.15,0.07,0.07,-0.22,0.22,0.51,0.29,-0.37,0.37,0.29,0.34,-0.44,-0.07,-0.44,-0.44,-0.44,0.29,-1.78];
const newtonErr13 = 0.75;
const tNewton15 = [5.96,6.01,6.07,6.12,6.18,6.23,6.28,6.34,6.39,6.45,6.50,6.55,6.61,6.66,6.72,6.77,6.82,6.88,6.93,6.99,7.04,7.09,7.15,7.20,7.26,7.31,7.36,7.42,7.47,7.53,7.58,7.63,7.69,7.74,7.80,7.85,7.90,7.96,8.01,8.07,8.12,8.17,8.23,8.28,8.34,8.39,8.44,8.50,8.55,8.61,8.66];
const newton15 = [-0.41,0.66,1.10,1.03,0.22,0.0,-0.29,-0.15,-0.32,-0.32,-0.66,0.0,-0.03,-0.07,1.47,-0.07,-0.07,0.59,0.66,0.15,-0.66,0.03,0.59,-0.29,-0.26,0.07,0.07,-0.73,0.22,-1.03,-1.06,0.29,-0.07,0.73,0.29,0.15,1.10,-0.29,0.29,-0.44,-0.95,-0.95,-0.07,0.15,0.29,0.22,0.29,0.07,-0.73,0.29,0.41];
const newtonErr15 = 0.8;
const tNewton17 = [5.94,5.99,6.05,6.10,6.16,6.21,6.26,6.32,6.37,6.43,6.48,6.53,6.59,6.64,6.70,6.75,6.80,6.86,6.91,6.97,7.02,7.07,7.13,7.18,7.24,7.29,7.34,7.40,7.45,7.51,7.56];
const newton17 = [0.76,1.25,0.59,0.0,-0.73,-0.44,-0.59,-0.07,-0.37,-0.07,-0.29,-0.59,-0.44,-0.73,-0.88,-0.59,-0.95,-0.78,0.0,0.76,0.07,0.29,0.88,-0.51,0.0,0.37,0.29,0.44,0.07,0.34,0.37];
const newtonErr17 = 0.75;
const tNewton19 = [5.89,5.94,6.00,6.05,6.10,6.16,6.21,6.26,6.32,6.37,6.42,6.48,6.53,6.58,6.64,6.69,6.74,6.80,6.85,6.90,6.96,7.01,7.06,7.12,7.17,7.23,7.28,7.33,7.39,7.44,7.49,7.55,7.60,7.65,7.71,7.76,7.81,7.87,7.92,7.97,8.03,8.08,8.13,8.19,8.24,8.29,8.35,8.40,8.45,8.51,8.56,8.61,8.67,8.72,8.77,8.83,8.88,8.93,8.99,9.04,9.09,9.15,9.20,9.25,9.31,9.36,9.41,9.47,9.52,9.57,9.63,9.68,9.73];
const newton19 = [-0.18,0.25,0.66,1.17,0.44,0.88,0.84,0.37,0.0,-0.37,-0.07,-0.22,-0.37,-0.22,-0.59,-0.51,-0.59,-0.22,0.07,0.22,0.0,-0.59,-0.98,-0.44,-0.44,0.15,0.44,0.48,-1.17,0.51,1.17,0.22,0.59,0.07,-0.07,0.07,-0.07,0.22,-0.22,0.37,0.07,-0.15,-0.29,0.07,0.59,0.0,0.0,0.51,0.88,0.88,0.88,-0.29,-0.44,0.29,0.22,0.29,0.15,0.07,0.15,0.07,-0.59,-0.66,0.07,0.15,-0.81,-0.07,0.15,0.15,0.15,1.50,0.88,-0.66,0.59];
const newtonErr19 = 0.75;
const tNewton21 = [5.94,5.99,6.05,6.10,6.15,6.21,6.26,6.31,6.37,6.42,6.47,6.53,6.58,6.63,6.69,6.74,6.79,6.85,6.90,6.95,7.01,7.06,7.11,7.17,7.22,7.28,7.33,7.38,7.44,7.49,7.54,7.60,7.65,7.70,7.76,7.81,7.86,7.92,7.97,8.02,8.08,8.13,8.18,8.24,8.29,8.34,8.40,8.45,8.50,8.56,8.61,8.66,8.72,8.77,8.82,8.88,8.93,8.98,9.04,9.09,9.14,9.20,9.25,9.30,9.36,9.41,9.46,9.52,9.57,9.62,9.68];
const newton21 = [-0.66,-0.22,0.07,0.51,0.51,0.73,1.47,0.95,0.44,0.66,0.59,0.37,0.44,-1.07,0.37,0.22,-0.07,0.07,0.29,-0.07,0.37,-0.22,0.29,-0.07,0.51,0.59,-0.07,-0.59,-0.15,0.22,-0.66,-0.07,0.37,-0.07,0.07,0.37,-0.07,0.29,-0.07,0.07,0.59,0.22,-0.07,0.29,0.15,-0.29,0.51,0.51,0.07,0.37,-0.37,0.22,0.44,-0.07,-0.22,0.07,0.22,1.25,0.51,0.07,0.15,0.0,-0.78,0.07,0.29,0.59,0.22,0.37,0.59,0.51,0.81];
const newtonErr21 = 0.7;

const tChandra15 = [8.72,8.81,8.90,8.99,9.08,9.17,9.26,9.35,9.44,9.53,9.62,9.71,9.80,9.89,9.98,10.07,10.16,10.25,10.34,10.43,10.52,10.61,10.70,10.79,10.88,10.97,11.07,11.16,11.25,11.34,11.43,11.52,11.61,11.70,11.79,11.88,11.97,12.06,12.15,12.24,12.33,12.42,12.51,12.60,12.69,12.78,12.87,12.96,13.05];
const chandra15 = [0.04,0.04,0.04,0.04,0.04,0.04,0.04,0.04,0.04,0.04,0.41,0.04,0.04,0.04,0.73,0.37,0.04,0.04,0.04,0.04,1.38,0.41,0.41,0.04,0.04,0.41,0.04,0.41,0.41,0.04,0.41,0.41,0.04,0.41,0.04,0.41,0.04,0.41,0.41,0.04,0.41,0.04,0.04,0.04,0.04,0.04,0.04,0.04,0.04];
const chandra15Err = [0.68,0.68,0.68,0.68,0.68,0.68,0.68,0.68,0.68,0.68,1.05,0.68,0.68,0.68,1.55,1.05,0.68,0.68,0.68,0.68,2.4,1.05,1.05,0.68,0.68,1.05,0.68,1.05,1.05,0.68,1.05,1.05,0.68,1.05,0.68,1.05,0.68,1.05,1.05,0.68,1.05,0.68,0.68,0.68,0.68,0.68,0.68,0.68,0.68];
const tChandra17 = [8.92,9.01,9.11,9.20,9.29,9.38,9.48,9.57,9.66,9.76,9.85,9.94,10.03,10.13,10.22,10.31,10.41,10.50,10.59,10.69,10.78,10.87,10.96,11.06,11.15,11.24,11.34,11.43,11.52,11.61,11.71,11.80,11.89,11.99,12.08,12.17,12.26,12.36,12.45,12.54,12.64,12.73,12.82,12.91,13.01,13.10];
const chandra17 = [0.04,0.04,0.04,0.04,0.41,0.41,0.04,0.41,0.04,0.73,0.41,0.04,0.73,0.04,0.04,0.41,0.41,0.73,0.04,0.41,0.04,0.04,0.41,0.41,0.41,0.04,0.41,0.04,0.04,0.41,0.04,0.41,0.04,0.41,0.04,0.04,0.41,1.10,0.73,0.41,0.41,0.04,0.04,0.41,0.73,0.04];
const chandra17Err = [0.68,0.68,0.68,0.68,1.2,1.2,0.68,1.2,0.68,1.6,1.2,0.68,1.5,0.68,0.68,1.2,1.2,1.6,0.68,1.2,0.68,0.68,1.2,1.2,1.2,0.68,1.2,0.68,0.68,1.2,0.68,1.2,0.68,1.2,0.68,0.68,1.2,1.8,1.1,1.2,1.2,0.68,0.68,1.2,1.4,0.68];
const tChandra21 = [6.68,6.77,6.86,6.96,7.05,7.14,7.23,7.32,7.42,7.51,7.60,7.69,7.78,7.88,7.97,8.06,8.15,8.24,8.34,8.43,8.52,8.61,8.70,8.80,8.89,8.98,9.07,9.16,9.26,9.35,9.44,9.53,9.62,9.72,9.81,9.90,9.99,10.08,10.18,10.27,10.36,10.45,10.54,10.64,10.73,10.82,10.91,11.00,11.10,11.19];
const chandra21 = [0.05,0.05,0.05,0.05,0.05,0.42,0.05,0.05,0.05,0.05,0.42,0.05,0.05,0.05,0.42,0.05,0.05,0.05,0.05,0.42,0.05,0.05,0.05,0.42,0.78,0.42,0.05,0.05,0.42,0.42,0.05,0.42,0.05,0.42,0.42,0.42,0.42,0.05,0.05,0.05,0.05,0.42,0.42,0.05,0.42,0.42,0.05,0.42,0.05,0.05];
const chandra21Err = [0.68,0.68,0.68,0.68,0.68,1.05,0.68,0.68,0.68,0.68,1.05,0.68,0.68,0.68,1.05,0.68,0.68,0.68,0.68,1.05,0.68,0.68,0.68,1.05,1.1,1.05,0.68,0.68,1.05,1.05,0.68,1.05,0.68,1.05,1.05,1.05,1.05,0.68,0.68,0.68,0.68,1.05,1.05,0.68,1.05,1.05,0.68,1.05,0.68,0.68];

// ---------- styling ----------
const FONT = 'DejaVu Sans';
const INK = '#262626';
const FRAME = '#333333';
const GREY = '#d3d6d2';
const BLUE = '#0a87d4', GREEN = '#61a90c', RED = '#990a0a';
const L_COL = '#6b3c0c', K_COL = '#bd8b5c';
const NEWTON = '#3d0c47', CHANDRA = '#6633b0';

const colLeft = [268.6, 572.0, 875.5, 1178.8, 1482.3];
const colW = 296.3;
const rowTop = [47.7, 323.7, 599.3, 739.2];
const rowH = [270.6, 270.0, 134.5, 135.8];

const rowAxes = [
  { min: -0.175, max: 0.254, ticks: devTicks, fmt: v => v.toFixed(1) },
  { min: -0.173, max: 0.35, ticks: devTicks, fmt: v => v.toFixed(1) },
  { min: -4.85, max: 15.4, ticks: irTicks, fmt: v => String(v) },
  { min: -1.47, max: 4.53, ticks: xrayTicks, fmt: v => v.toFixed(1) }
];

const optTimes = [tOpt13, tOpt15, tOpt17, tOpt19, tOpt21];
const topBand = [
  { name: 'blue band', color: BLUE, v: blue13, e: blue13Err, grey: grey13Top, leg: 'right' },
  { name: 'blue band', color: BLUE, v: blue15, e: blue15Err, grey: grey15Top, leg: 132 },
  { name: 'green band', color: GREEN, v: green17, e: green17Err, grey: grey17Top, leg: 'right' },
  { name: 'green band', color: GREEN, v: green19, e: green19Err, grey: grey19Top, leg: 'left' },
  { name: 'blue band', color: BLUE, v: blue21, e: blue21Err, grey: grey21Top, leg: 'right' }
];
const redBand = [
  { v: red13, e: red13Err, grey: grey13Red, leg: 'right' },
  { v: red15, e: red15Err, grey: grey15Red, leg: 'right' },
  { v: red17, e: red17Err, grey: grey17Red, leg: 'right' },
  { v: red19, e: red19Err, grey: grey19Red, leg: 'left' },
  { v: red21, e: red21Err, grey: grey21Red, leg: 'right' }
];
const irBands = [
  null,
  { L: [tL15, L15], K: [tK15, K15] },
  { L: [tL17, L17], K: [tK17, K17] },
  { L: [tL19, L19], K: [tK19, K19] },
  { L: [tL21, L21], K: [tK21, K21] }
];
const xray = [
  { n: [tNewton13, newton13, newtonErr13] },
  { n: [tNewton15, newton15, newtonErr15], ch: [tChandra15, chandra15, chandra15Err] },
  { n: [tNewton17, newton17, newtonErr17], ch: [tChandra17, chandra17, chandra17Err] },
  { n: [tNewton19, newton19, newtonErr19] },
  { n: [tNewton21, newton21, newtonErr21], ch: [tChandra21, chandra21, chandra21Err] }
];

// ---------- helpers ----------
const pairs = (t, v) => t.map((x, i) => [x, v[i]]);
const triples = (t, v, e) => t.map((x, i) => [x, v[i], Array.isArray(e) ? e[i] : e]);

function lineSeries(gi, data, color, width, z) {
  return {
    type: 'line', xAxisIndex: gi, yAxisIndex: gi, data, symbol: 'none', silent: true,
    clip: true, z, lineStyle: { color, width }
  };
}

function errSeries(gi, data, color, width, opacity, z) {
  return {
    type: 'custom', xAxisIndex: gi, yAxisIndex: gi, data, silent: true, z,
    encode: { x: 0, y: 1 },
    renderItem: (params, api) => {
      const x = api.value(0), y = api.value(1), e = api.value(2);
      const a = api.coord([x, y - e]);
      const b = api.coord([x, y + e]);
      const cs = params.coordSys;
      const lo = cs.y, hi = cs.y + cs.height;
      const y1 = Math.min(Math.max(a[1], lo), hi);
      const y2 = Math.min(Math.max(b[1], lo), hi);
      if (y1 === y2) return { type: 'group', children: [] };
      return {
        type: 'line',
        shape: { x1: a[0], y1, x2: b[0], y2 },
        style: { stroke: color, lineWidth: width, opacity }
      };
    }
  };
}

function scatterSeries(gi, data, color, size, opacity, z) {
  return {
    type: 'scatter', xAxisIndex: gi, yAxisIndex: gi, data, symbolSize: size, silent: true,
    clip: true, z, itemStyle: { color, opacity }
  };
}

// ---------- grids & axes ----------
const grid = [], xAxis = [], yAxis = [];
for (let r = 0; r < 4; r++) {
  for (let c = 0; c < 5; c++) {
    const gi = r * 5 + c;
    grid.push({ left: colLeft[c], top: rowTop[r], width: colW, height: rowH[r], show: false });
    xAxis.push({
      type: 'value', gridIndex: gi, min: 5.29, max: 13.49,
      axisLine: { show: false }, axisTick: { show: false }, splitLine: { show: false },
      axisLabel: {
        show: r === 3, customValues: xTicks, formatter: v => String(v),
        fontSize: 27, color: INK, fontFamily: FONT, margin: 7
      }
    });
    yAxis.push({
      type: 'value', gridIndex: gi, min: rowAxes[r].min, max: rowAxes[r].max,
      axisLine: { show: false }, axisTick: { show: false }, splitLine: { show: false },
      axisLabel: {
        show: c === 0, customValues: rowAxes[r].ticks, formatter: rowAxes[r].fmt,
        fontSize: 27, color: INK, fontFamily: FONT, margin: 8
      }
    });
  }
}

// ---------- series ----------
const series = [];
for (let c = 0; c < 5; c++) {
  const t = optTimes[c];
  const tEven = t.filter((_, i) => i % 2 === 0);
  // top row
  const tb = topBand[c];
  tb.grey.forEach(g => series.push(lineSeries(c, pairs(tEven, g), GREY, 1, 1)));
  series.push(errSeries(c, triples(t, tb.v, tb.e), tb.color, 3.2, 1, 3));
  series.push(lineSeries(c, pairs(t, tb.v), tb.color, 2.6, 4));
  // red row
  const rb = redBand[c];
  rb.grey.forEach(g => series.push(lineSeries(5 + c, pairs(tEven, g), GREY, 1, 1)));
  series.push(errSeries(5 + c, triples(t, rb.v, rb.e), RED, 3.2, 1, 3));
  series.push(lineSeries(5 + c, pairs(t, rb.v), RED, 2.6, 4));
  // IR row
  const ir = irBands[c];
  if (ir) {
    series.push(lineSeries(10 + c, pairs(ir.L[0], ir.L[1]), L_COL, 2.4, 3));
    series.push(lineSeries(10 + c, pairs(ir.K[0], ir.K[1]), K_COL, 2.4, 4));
  }
  // X-ray row
  const xr = xray[c];
  series.push(errSeries(15 + c, triples(xr.n[0], xr.n[1], xr.n[2]), NEWTON, 2.2, 1, 3));
  series.push(scatterSeries(15 + c, pairs(xr.n[0], xr.n[1]), NEWTON, 6.5, 1, 4));
  if (xr.ch) {
    series.push(errSeries(15 + c, triples(xr.ch[0], xr.ch[1], xr.ch[2]), CHANDRA, 2, 0.55, 5));
    series.push(scatterSeries(15 + c, pairs(xr.ch[0], xr.ch[1]), CHANDRA, 10.5, 0.65, 6));
  }
}

// ---------- graphic: frames, titles, legends, axis names ----------
const graphic = [];
const txt = (x, y, text, size, extra) => Object.assign({
  type: 'text', x, y, z: 60,
  style: Object.assign({ text, fontSize: size, fontFamily: FONT, fill: INK, align: 'center', verticalAlign: 'middle' }, extra || {})
});
const seg = (x1, y1, x2, y2, color, w, op) => ({
  type: 'line', z: 60, shape: { x1, y1, x2, y2 }, style: { stroke: color, lineWidth: w, opacity: op == null ? 1 : op }
});

for (let r = 0; r < 4; r++) {
  for (let c = 0; c < 5; c++) {
    graphic.push({
      type: 'rect', z: 80, shape: { x: colLeft[c], y: rowTop[r], width: colW, height: rowH[r] },
      style: { fill: 'none', stroke: FRAME, lineWidth: 2 }
    });
  }
}
days.forEach((d, c) => graphic.push(txt(colLeft[c] + colW / 2, 29.5, d, 42)));
graphic.push(txt(1023.5, 934, 'UT time in fractions of [h]', 43));

const mctx = document.createElement('canvas').getContext('2d');
const LEG = 14.5;
mctx.font = LEG + 'px "' + FONT + '"';

function legend(r, c, entries, anchor) {
  const left = colLeft[c], top = rowTop[r];
  const wMax = Math.max(...entries.map(e => mctx.measureText(e.label).width));
  const tx = anchor === 'left' ? left + 54.2
    : (typeof anchor === 'number' ? left + anchor : left + colW - 13 - wMax);
  entries.forEach((e, k) => {
    const y = top + 19.3 + k * 20.8;
    graphic.push(txt(tx, y, e.label, LEG, { align: 'left' }));
    const mx = tx - 26.5;
    if (e.kind === 'line') {
      graphic.push(seg(mx - 15.5, y, mx + 15.5, y, e.color, e.w));
      graphic.push(seg(mx, y - 7, mx, y + 7, e.color, e.w + 0.4));
    } else {
      graphic.push(seg(mx, y - e.bar, mx, y + e.bar, e.color, 2, e.op));
      graphic.push({ type: 'circle', z: 61, shape: { cx: mx, cy: y, r: e.r }, style: { fill: e.color, opacity: e.op } });
    }
  });
}

for (let c = 0; c < 5; c++) {
  const tb = topBand[c];
  legend(0, c, [{ label: tb.name, kind: 'line', color: tb.color, w: 2.6 }], tb.leg);
  legend(1, c, [{ label: 'red band', kind: 'line', color: RED, w: 2.6 }], redBand[c].leg);
  legend(2, c, [
    { label: 'L band', kind: 'line', color: L_COL, w: 2.2 },
    { label: 'K band', kind: 'line', color: K_COL, w: 2.2 }
  ], 'right');
  const xe = [{ label: 'Newton', kind: 'dot', color: NEWTON, r: 3.5, bar: 7, op: 1 }];
  if (xray[c].ch) xe.push({ label: 'Chandra', kind: 'dot', color: CHANDRA, r: 5.2, bar: 8, op: 0.65 });
  legend(3, c, xe, 'right');
}

// rotated y-axis names (local x runs upward, local y runs to the right)
function rotLabel(cy, parts) {
  return {
    type: 'group', x: 0, y: cy, rotation: Math.PI / 2, z: 60,
    children: parts.map(p => p.bar
      ? { type: 'line', shape: { x1: p.bar[0], y1: p.ly, x2: p.bar[1], y2: p.ly }, style: { stroke: INK, lineWidth: 2 } }
      : {
        type: 'text', x: p.lx, y: p.ly,
        style: {
          text: p.t, fontSize: p.s || 31, fontFamily: FONT, fontStyle: p.it ? 'italic' : 'normal',
          fill: INK, align: 'center', verticalAlign: 'middle'
        }
      })
  };
}
const ylab = [
  { lx: 0, ly: 129, t: 'Median' },
  { lx: 0, ly: 166, t: 'deviation [Jy]' }
];
graphic.push(rotLabel(rowTop[0] + rowH[0] / 2, ylab));
graphic.push(rotLabel(rowTop[1] + rowH[1] / 2, ylab));
graphic.push(rotLabel(rowTop[2] + rowH[2] / 2, [
  { lx: -6, ly: 136, t: 'F', it: true },
  { lx: 9, ly: 145, t: 'ν', s: 21, it: true },
  { lx: 0, ly: 173, t: '[mJy]' }
]));
graphic.push(rotLabel(rowTop[3] + rowH[3] / 2, [
  { lx: -60, ly: 115, t: '10' },
  { lx: -16, ly: 105, t: '−12', s: 21 },
  { lx: 26.5, ly: 116, t: '×' },
  { lx: 53, ly: 115, t: 'F', it: true },
  { lx: 69, ly: 123, t: 'ν', s: 21, it: true },
  { lx: -51, ly: 173, t: '[' },
  { lx: 45, ly: 173, t: ']' },
  { lx: 0, ly: 156, t: 'erg' },
  { bar: [-41, 41], ly: 177 },
  { lx: -6.4, ly: 194, t: 'scm' },
  { lx: 29.7, ly: 184, t: '2', s: 21 }
]));
// small stray mark at the far left of the figure
graphic.push({
  type: 'text', x: 27, y: 580, rotation: -Math.PI / 2, z: 60,
  style: { text: '≤i', fontSize: 15, fontFamily: 'DejaVu Serif', fill: '#000', align: 'center', verticalAlign: 'middle' }
});

const chart = echarts.init(document.getElementById('chart'), null, { renderer: 'canvas' });
chart.setOption({
  animation: false,
  backgroundColor: '#ffffff',
  grid, xAxis, yAxis, series, graphic
});
</script>
</body>
</html>
